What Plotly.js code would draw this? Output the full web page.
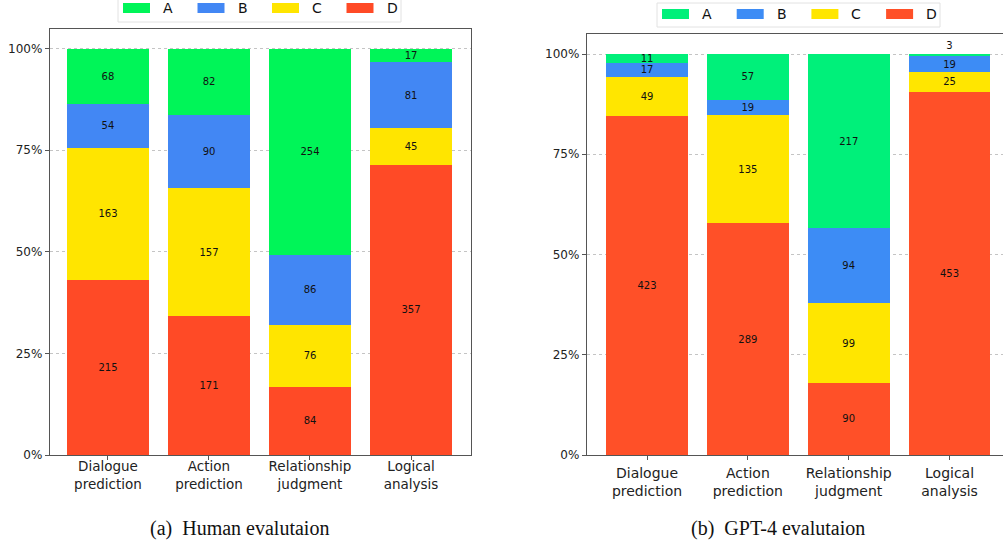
<!DOCTYPE html>
<html>
<head>
<meta charset="utf-8">
<script src="https://cdn.plot.ly/plotly-3.0.1.min.js"></script>
<style>html,body{margin:0;padding:0;background:#fff;}#chart{width:1003px;height:545px;}</style>
</head>
<body>
<div id="chart"></div>
<script>
const categories = ['Dialogue prediction', 'Action prediction', 'Relationship judgment', 'Logical analysis'];
const tickLabels = ['Dialogue<br>prediction', 'Action<br>prediction', 'Relationship<br>judgment', 'Logical<br>analysis'];
const seriesNames = ['A', 'B', 'C', 'D'];

const humanA = [68, 82, 254, 17];
const humanB = [54, 90, 86, 81];
const humanC = [163, 157, 76, 45];
const humanD = [215, 171, 84, 357];

const gptA = [11, 57, 217, 3];
const gptB = [17, 19, 94, 19];
const gptC = [49, 135, 99, 25];
const gptD = [423, 289, 90, 453];

const yTickVals = [0, 0.25, 0.5, 0.75, 1];
const yTickText = ['0%', '25%', '50%', '75%', '100%'];

const colorsLeft = ['#00F558', '#4287F4', '#FFE500', '#FF4A26'];
const colorsRight = ['#00F07A', '#3D8CF5', '#FFE600', '#FF5028'];

const captions = ['(a)  Human evalutaion', '(b)  GPT-4 evalutaion'];

const W = 1003, H = 545;
const px = x => x / W;
const py = y => 1 - y / H;

function makeTraces(seriesVals, colors, xa, ya) {
  // stacking from bottom: D, C, B, A
  const order = [3, 2, 1, 0];
  return order.map(i => {
    const vals = seriesVals[i];
    const total = vals.map((v, k) => seriesVals.reduce((s, arr) => s + arr[k], 0));
    // top segment too thin for its label -> put label just above the bar
    const pos = vals.map((v, k) => (i === 0 && v / total[k] < 0.015) ? 'outside' : 'inside');
    return {
      type: 'bar',
      name: seriesNames[i],
      x: categories,
      y: vals,
      text: vals.map(String),
      textposition: pos,
      insidetextanchor: 'middle',
      constraintext: 'none',
      cliponaxis: false,
      textangle: 0,
      textfont: {family: 'DejaVu Sans', size: 10, color: '#111'},
      marker: {color: colors[i], line: {width: 0}},
      xaxis: xa, yaxis: ya,
      showlegend: false,
      hoverinfo: 'none'
    };
  });
}

const traces = [
  ...makeTraces([humanA, humanB, humanC, humanD], colorsLeft, 'x', 'y'),
  ...makeTraces([gptA, gptB, gptC, gptD], colorsRight, 'x2', 'y2')
];

const axisCommon = {
  showline: true, linecolor: '#555', linewidth: 1.2,
  ticks: 'outside', ticklen: 4, tickcolor: '#555',
  zeroline: false, fixedrange: true, automargin: false
};

const layout = {
  width: W, height: H,
  margin: {l: 0, r: 0, t: 0, b: 0},
  paper_bgcolor: '#fff', plot_bgcolor: '#fff',
  barmode: 'stack', barnorm: 'fraction', bargap: 0.19,
  showlegend: false,
  xaxis: Object.assign({}, axisCommon, {
    domain: [px(50), px(471)], anchor: 'y', mirror: true,
    type: 'category', range: [-0.574, 3.594],
    tickvals: categories, ticktext: tickLabels,
    tickfont: {family: 'DejaVu Sans', size: 13.5, color: '#222'},
    showgrid: false, ticklabelstandoff: -5
  }),
  yaxis: Object.assign({}, axisCommon, {
    domain: [py(455), py(29)], anchor: 'x', mirror: true,
    range: [0, 1.048],
    tickvals: yTickVals, ticktext: yTickText,
    tickfont: {family: 'DejaVu Sans', size: 12, color: '#222'},
    showgrid: true, gridcolor: '#c4c4c4', griddash: 'dot', gridwidth: 1
  }),
  xaxis2: Object.assign({}, axisCommon, {
    domain: [px(587), 1], anchor: 'y2', mirror: true,
    type: 'category', range: [-0.595, 3.53],
    tickvals: categories, ticktext: tickLabels,
    tickfont: {family: 'DejaVu Sans', size: 14, color: '#222'},
    showgrid: false, ticklabelstandoff: 1
  }),
  yaxis2: Object.assign({}, axisCommon, {
    domain: [py(455), py(34)], anchor: 'x2', mirror: false,
    range: [0, 1.05],
    tickvals: yTickVals, ticktext: yTickText,
    tickfont: {family: 'DejaVu Sans', size: 12, color: '#222'},
    showgrid: true, gridcolor: '#c4c4c4', griddash: 'dot', gridwidth: 1
  }),
  shapes: [],
  annotations: []
};

// custom legends (wide rectangular patches)
function addLegend(boxX0, boxX1, boxY0, boxY1, firstPatchX, spacing, patchY0, patchY1, colors) {
  layout.shapes.push({
    type: 'rect', xref: 'paper', yref: 'paper',
    x0: px(boxX0), x1: px(boxX1), y0: py(boxY1), y1: py(boxY0),
    line: {color: '#e2e2e2', width: 1}, fillcolor: '#fff', layer: 'above'
  });
  seriesNames.forEach((name, i) => {
    const x0 = firstPatchX + i * spacing;
    layout.shapes.push({
      type: 'rect', xref: 'paper', yref: 'paper',
      x0: px(x0), x1: px(x0 + 27), y0: py(patchY1), y1: py(patchY0),
      line: {width: 0}, fillcolor: colors[i], layer: 'above'
    });
    layout.annotations.push({
      xref: 'paper', yref: 'paper', x: px(x0 + 38), y: py((patchY0 + patchY1) / 2),
      xanchor: 'left', yanchor: 'middle', showarrow: false, text: name,
      font: {family: 'DejaVu Sans', size: 14, color: '#111'}
    });
  });
}
addLegend(118, 401, -2, 22, 123, 74.5, 3, 13, colorsLeft);
addLegend(657, 940, 3, 27, 662, 74.7, 9, 19, colorsRight);

// captions
layout.annotations.push({
  xref: 'paper', yref: 'paper', x: px(239), y: py(528), xanchor: 'center', yanchor: 'middle',
  showarrow: false, text: captions[0], font: {family: 'Liberation Serif', size: 20, color: '#111'}
});
layout.annotations.push({
  xref: 'paper', yref: 'paper', x: px(778), y: py(528), xanchor: 'center', yanchor: 'middle',
  showarrow: false, text: captions[1], font: {family: 'Liberation Serif', size: 20, color: '#111'}
});

Plotly.newPlot('chart', traces, layout, {displayModeBar: false, staticPlot: true});
</script>
</body>
</html>
